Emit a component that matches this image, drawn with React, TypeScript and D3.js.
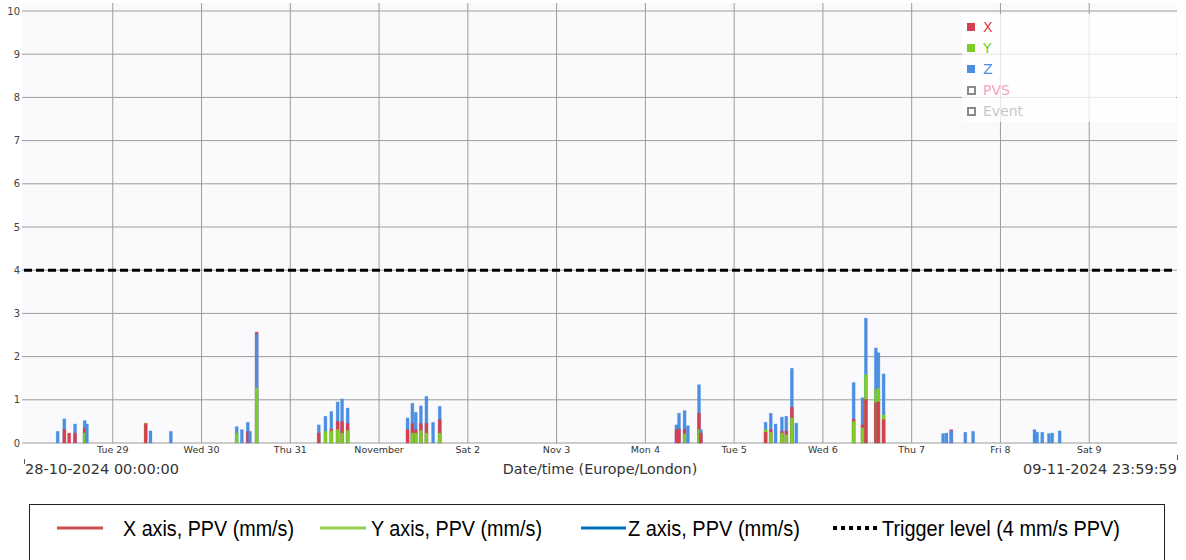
import React from "react";
import * as d3 from "d3";

// --- readings (hourly PPV peaks, mm/s) ---
const times = [
  "2024-10-28T09:06", "2024-10-28T10:54", "2024-10-28T12:12", "2024-10-28T13:48", "2024-10-28T16:24", "2024-10-28T17:00",
  "2024-10-29T08:54", "2024-10-29T10:12", "2024-10-29T15:42",
  "2024-10-30T09:30", "2024-10-30T10:54", "2024-10-30T12:30", "2024-10-30T13:06", "2024-10-30T14:54",
  "2024-10-31T07:42", "2024-10-31T09:30", "2024-10-31T11:06", "2024-10-31T12:48", "2024-10-31T14:00", "2024-10-31T15:30",
  "2024-11-01T07:42", "2024-11-01T09:00", "2024-11-01T09:54", "2024-11-01T11:18", "2024-11-01T12:48", "2024-11-01T14:36", "2024-11-01T16:24",
  "2024-11-04T08:24", "2024-11-04T09:06", "2024-11-04T10:36", "2024-11-04T11:30", "2024-11-04T14:30", "2024-11-04T15:00",
  "2024-11-05T08:30", "2024-11-05T09:54", "2024-11-05T11:12", "2024-11-05T12:54", "2024-11-05T14:06", "2024-11-05T15:36", "2024-11-05T16:48",
  "2024-11-06T08:18", "2024-11-06T10:42", "2024-11-06T11:36", "2024-11-06T14:18", "2024-11-06T15:00", "2024-11-06T16:24",
  "2024-11-07T08:30", "2024-11-07T09:24", "2024-11-07T10:42", "2024-11-07T14:30", "2024-11-07T16:36",
  "2024-11-08T09:12", "2024-11-08T09:54", "2024-11-08T11:18", "2024-11-08T13:06", "2024-11-08T14:00", "2024-11-08T16:00",
];
const xPPV = [
  0, 0.31, 0.23, 0.23, 0.35, 0,
  0.45, 0, 0,
  0, 0, 0.27, 0, 2.57,
  0.23, 0, 0.32, 0.5, 0.5, 0.45,
  0.31, 0.45, 0.31, 0.45, 0.46, 0, 0.54,
  0.31, 0.32, 0.32, 0, 0.69, 0.23,
  0.25, 0.31, 0, 0.27, 0.28, 0.83, 0,
  0.55, 0.42, 1.01, 0.94, 0.95, 0.54,
  0, 0, 0.31, 0, 0,
  0, 0, 0, 0, 0, 0,
];
const yPPV = [
  0, 0, 0, 0, 0.23, 0,
  0.46, 0, 0,
  0.23, 0, 0, 0, 1.27,
  0, 0.27, 0.28, 0.31, 0.23, 0.29,
  0, 0.23, 0.23, 0.29, 0.23, 0, 0.23,
  0, 0, 0.21, 0, 0.31, 0,
  0.31, 0.25, 0, 0.23, 0.19, 0.58, 0,
  0.5, 0.35, 1.58, 1.23, 1.27, 0.65,
  0, 0, 0, 0, 0,
  0, 0, 0, 0, 0, 0,
];
const zPPV = [
  0.27, 0.56, 0, 0.44, 0.52, 0.44,
  0, 0.28, 0.27,
  0.38, 0.31, 0.48, 0.27, 2.53,
  0.42, 0.62, 0.73, 0.95, 1.02, 0.81,
  0.58, 0.92, 0.71, 0.86, 1.08, 0.48, 0.85,
  0.42, 0.69, 0.75, 0.4, 1.35, 0.31,
  0.48, 0.69, 0.44, 0.6, 0.62, 1.73, 0.46,
  1.4, 1.05, 2.89, 2.2, 2.09, 1.6,
  0.22, 0.23, 0.28, 0.25, 0.27,
  0.31, 0.25, 0.25, 0.22, 0.23, 0.28,
];

const dayTicks = [
  "2024-10-29", "2024-10-30", "2024-10-31", "2024-11-01", "2024-11-02", "2024-11-03",
  "2024-11-04", "2024-11-05", "2024-11-06", "2024-11-07", "2024-11-08", "2024-11-09",
];
const dayLabels = [
  "Tue 29", "Wed 30", "Thu 31", "November", "Sat 2", "Nov 3",
  "Mon 4", "Tue 5", "Wed 6", "Thu 7", "Fri 8", "Sat 9",
];
const yTicks = [0, 1, 2, 3, 4, 5, 6, 7, 8, 9, 10];
const triggerLevel = 4;

const topLegend = [
  { label: "X", color: "#d63f4f", filled: true },
  { label: "Y", color: "#7ccc2a", filled: true },
  { label: "Z", color: "#4b8fe3", filled: true },
  { label: "PVS", color: "#f7a3c6", filled: false },
  { label: "Event", color: "#c8c8c8", filled: false },
];

const bottomLegend = [
  { label: "X axis, PPV (mm/s)", color: "#c9504f", x1: 57, x2: 103, tx: 123, tw: 171, dash: false },
  { label: "Y axis, PPV (mm/s)", color: "#92d050", x1: 320, x2: 366, tx: 371, tw: 171, dash: false },
  { label: "Z axis, PPV (mm/s)", color: "#0070c0", x1: 581, x2: 626, tx: 628, tw: 172, dash: false },
  { label: "Trigger level (4 mm/s PPV)", color: "#000", x1: 833, x2: 878, tx: 882, tw: 238, dash: true },
];

const RED = "#d63f4f";
const GREEN = "#7ccc2a";
const BLUE = "#4b8fe3";

export default function App() {
  const parseT = d3.utcParse("%Y-%m-%dT%H:%M");
  const parseD = d3.utcParse("%Y-%m-%d");

  const left = 24;
  const right = 1178;
  const top = 11;
  const bottom = 443;

  const xs = d3
    .scaleUtc()
    .domain([new Date(Date.UTC(2024, 9, 28)), new Date(Date.UTC(2024, 10, 10))])
    .range([left, right]);
  const ys = d3.scaleLinear().domain([0, 10]).range([bottom, top]);

  const bars = times.map((t, i) => {
    const vals = [
      { v: xPPV[i], c: RED },
      { v: yPPV[i], c: GREEN },
      { v: zPPV[i], c: BLUE },
    ]
      .filter(d => d.v > 0)
      .sort((a, b) => b.v - a.v);
    return { x: xs(parseT(t)!), vals };
  });

  const tickFont = "'DejaVu Sans', Verdana, sans-serif";

  return (
    <svg
      width={1186}
      height={560}
      style={{ position: "absolute", left: 0, top: 0, background: "#fff" }}
    >
      {/* plot background */}
      <rect x={left - 2} y={3} width={right - left + 1} height={bottom - 3} fill="#fafafd" />

      {/* horizontal grid */}
      {yTicks.map(t => (
        <g key={t}>
          <line x1={left - 2} x2={right - 1} y1={ys(t)} y2={ys(t)} stroke="#9c9c9c" strokeWidth={1} />
          <text
            x={20}
            y={ys(t) + 3.5}
            textAnchor="end"
            fontSize={10}
            fontFamily={tickFont}
            fill="#444"
          >
            {t}
          </text>
        </g>
      ))}

      {/* vertical grid + day labels */}
      {dayTicks.map((d, i) => {
        const x = xs(parseD(d)!);
        return (
          <g key={d}>
            <line x1={x} x2={x} y1={3} y2={bottom} stroke="#9c9c9c" strokeWidth={1} />
            <text
              x={x}
              y={453}
              textAnchor="middle"
              fontSize={9.5}
              fontFamily={tickFont}
              fill="#333"
            >
              {dayLabels[i]}
            </text>
          </g>
        );
      })}

      {/* bars: overlapping columns, tallest behind */}
      {bars.map((b, i) => (
        <g key={i}>
          {b.vals.map((d, j) => (
            <rect
              key={j}
              x={b.x - 1.5}
              y={ys(d.v)}
              width={3}
              height={bottom - ys(d.v)}
              fill={d.c}
              stroke={d.c}
              strokeOpacity={0.35}
              strokeWidth={0.8}
            />
          ))}
        </g>
      ))}

      {/* trigger level */}
      <line
        x1={left}
        x2={right - 2}
        y1={ys(triggerLevel)}
        y2={ys(triggerLevel)}
        stroke="#000"
        strokeWidth={3}
        strokeDasharray="8,4"
      />

      {/* top-right legend */}
      <rect x={962} y={14} width={214} height={108} fill="#fff" opacity={0.75} />
      {topLegend.map((d, i) => {
        const cy = 27 + i * 21;
        return (
          <g key={d.label}>
            {d.filled ? (
              <rect x={967} y={cy - 4} width={8} height={8} fill={d.color} />
            ) : (
              <rect x={968} y={cy - 3} width={7} height={7} fill="#fff" stroke="#8a8a8a" strokeWidth={2} />
            )}
            <text x={983} y={cy + 5} fontSize={14} fontFamily={tickFont} fill={d.color}>
              {d.label}
            </text>
          </g>
        );
      })}

      {/* under-axis captions */}
      <line x1={24.5} x2={24.5} y1={459} y2={464} stroke="#555" strokeWidth={1} />
      <line x1={1177.5} x2={1177.5} y1={455} y2={460} stroke="#555" strokeWidth={1} />
      <text x={25} y={474} fontSize={14.5} fontFamily={tickFont} fill="#333">
        28-10-2024 00:00:00
      </text>
      <text x={600} y={474} textAnchor="middle" fontSize={14.3} fontFamily={tickFont} fill="#333">
        Date/time (Europe/London)
      </text>
      <text x={1177} y={474} textAnchor="end" fontSize={14.5} fontFamily={tickFont} fill="#333">
        09-11-2024 23:59:59
      </text>

      {/* bottom legend box */}
      <rect x={29.5} y={504.5} width={1135} height={70} fill="#fff" stroke="#222" strokeWidth={1} />
      {bottomLegend.map(d => (
        <g key={d.label}>
          <line
            x1={d.x1}
            x2={d.x2}
            y1={528}
            y2={528}
            stroke={d.color}
            strokeWidth={d.dash ? 4 : 3}
            strokeDasharray={d.dash ? "4,4" : undefined}
          />
          <text
            x={d.tx}
            y={536}
            fontSize={22}
            fontFamily="'Liberation Sans', Arial, sans-serif"
            textLength={d.tw}
            lengthAdjust="spacingAndGlyphs"
            fill="#000"
          >
            {d.label}
          </text>
        </g>
      ))}
    </svg>
  );
}
